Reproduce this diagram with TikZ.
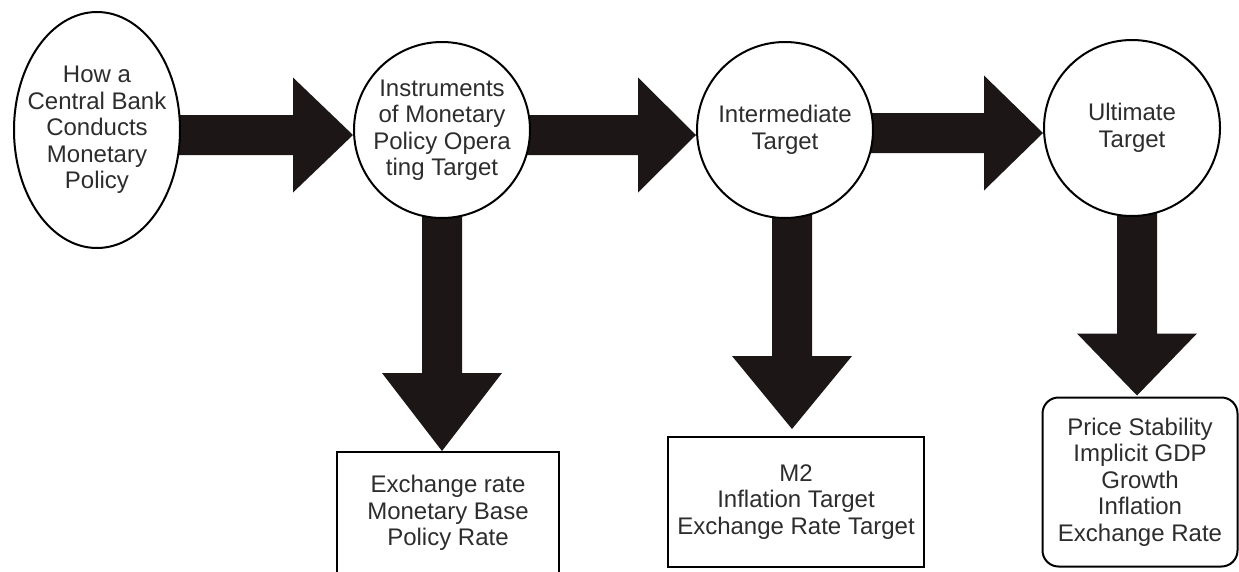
\documentclass[tikz,border=0pt]{standalone}
\usepackage{fontspec}
\setmainfont{Liberation Sans}
\usetikzlibrary{shapes.geometric,calc,backgrounds}
\definecolor{arrowfill}{RGB}{28,22,22}
\definecolor{txt}{RGB}{45,45,45}
\tikzset{
  base/.style={draw=black, line width=2pt, fill=white, text=txt, align=center, inner sep=0pt,
    font=\fontsize{24}{26.5}\selectfont},
  oval/.style={base, ellipse, inner xsep=-14pt, minimum width=166pt, minimum height=236pt},
  disc/.style={base, circle, minimum size=176pt},
  box/.style={base, rectangle},
  arr/.style={fill=arrowfill}
}
\newcommand{\harr}[3]{%
  \coordinate (hs) at (#1 |- #2);
  \fill[arr] ($(hs)+(-8,-20)$) -- ($(#2)+(-#3,-20)$) -- ($(#2)+(-#3,-57.5)$) -- (#2)
    -- ($(#2)+(-#3,57.5)$) -- ($(#2)+(-#3,20)$) -- ($(hs)+(-8,20)$) -- cycle;}
\newcommand{\varr}[3]{%
  \coordinate (vs) at (#2 |- #1);
  \fill[arr] ($(vs)+(-20,-8)$) -- ($(#2)+(-20,-#3)$) -- ($(#2)+(-60,-#3)$) -- (#2)
    -- ($(#2)+(60,-#3)$) -- ($(#2)+(20,-#3)$) -- ($(vs)+(20,-8)$) -- cycle;}
\begin{document}
\begin{tikzpicture}[x=1pt,y=-1pt]
\useasboundingbox (0,0) rectangle (1239,571);
\clip (0,0) rectangle (1239,571);

\node[oval] (how) at (97,130) {How a\\Central Bank\\Conducts\\Monetary\\Policy};
\node[disc] (instr) at (442,130) {Instruments\\of Monetary\\Policy Opera\\ting Target};
\node[disc] (inter) at (785,130) {Intermediate\\Target};
\node[disc] (ult) at (1132,128) {Ultimate\\Target};

\node[box, minimum width=222pt, minimum height=122pt] (opbox) at (448,513)
  {Exchange rate\\Monetary Base\\Policy Rate};
\node[box, minimum width=256pt, minimum height=130pt] (intbox) at (796,502)
  {M2\\Inflation Target\\Exchange Rate Target};
\node[box, rounded corners=16pt, minimum width=195pt, minimum height=169pt] (ultbox) at (1140,482)
  {Price Stability\\Implicit GDP\\Growth\\Inflation\\Exchange Rate};

\coordinate (t1) at ($(instr.west)+(0,5)$);
\coordinate (t2) at ($(inter.west)+(0,5)$);
\coordinate (t3) at ($(ult.west)+(0,5)$);
\coordinate (d1) at (instr.south |- opbox.north);
\coordinate (d2) at ($(intbox.north)+(-4,-7)$);
\coordinate (d3) at ($(ultbox.north)+(-3,-1)$);

\begin{scope}[on background layer]
  \harr{how.east}{t1}{60}
  \harr{instr.east}{t2}{58}
  \harr{inter.east}{t3}{59}
  \varr{instr.south}{d1}{78}
  \varr{inter.south}{d2}{73}
  \varr{ult.south}{d3}{62}
\end{scope}
\end{tikzpicture}
\end{document}
